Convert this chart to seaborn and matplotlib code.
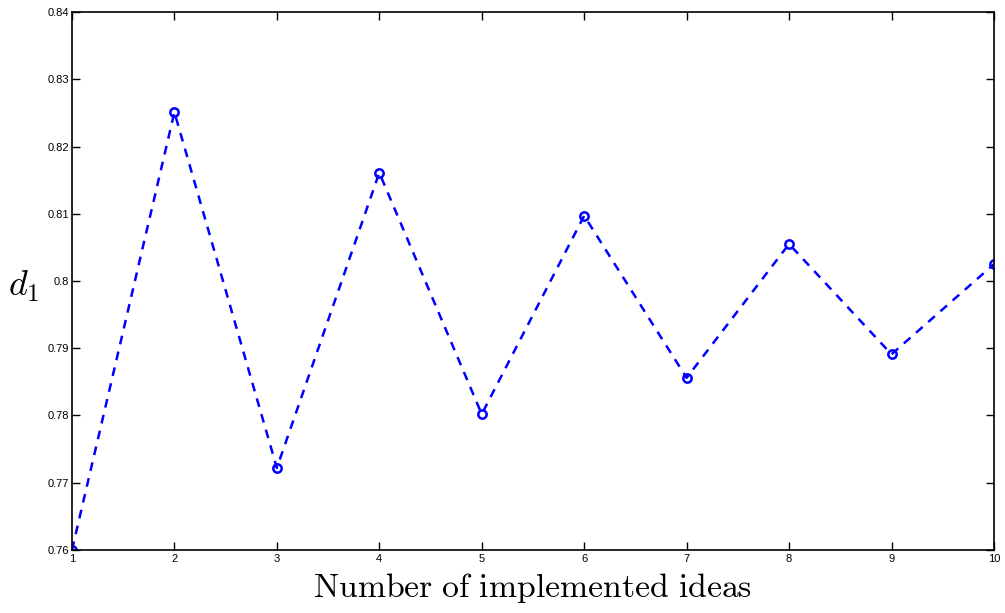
import matplotlib
matplotlib.use("Agg")
import matplotlib.pyplot as plt
import seaborn as sns
import pandas as pd

ideas = [1, 2, 3, 4, 5, 6, 7, 8, 9, 10]
d1 = [0.7600, 0.8251, 0.7722, 0.8161, 0.7802, 0.8097, 0.7856, 0.8055, 0.7891, 0.8025]
yticks = [0.76, 0.77, 0.78, 0.79, 0.80, 0.81, 0.82, 0.83, 0.84]
ytick_labels = ["0.76", "0.77", "0.78", "0.79", "0.8", "0.81", "0.82", "0.83", "0.84"]

sns.set_style("white")
plt.rcParams["font.family"] = ["Liberation Sans", "DejaVu Sans"]
plt.rcParams["mathtext.fontset"] = "cm"
plt.rcParams["text.color"] = "black"
plt.rcParams["axes.labelcolor"] = "black"

df = pd.DataFrame({"ideas": ideas, "d1": d1})

fig = plt.figure(figsize=(10.05, 6.13), dpi=100)
ax = fig.add_axes([0.0716, 0.1028, 0.9174, 0.8776])

sns.lineplot(data=df, x="ideas", y="d1", ax=ax, color="#0000ff",
             linestyle=(0, (3.5, 3)), linewidth=1.8, marker="o", markersize=6,
             markerfacecolor="none", markeredgecolor="#0000ff", markeredgewidth=1.8)

ax.set_xlim(1, 10)
ax.set_ylim(0.76, 0.84)
ax.set_xticks(ideas)
ax.set_xticklabels([str(i) for i in ideas])
ax.set_yticks(yticks)
ax.set_yticklabels(ytick_labels)
ax.tick_params(direction="in", length=6, width=1, labelsize=8, pad=2,
               top=True, right=True, bottom=True, left=True, colors="black")
ax.tick_params(axis="x", pad=3)
for s in ax.spines.values():
    s.set_visible(True)
    s.set_color("black")
    s.set_linewidth(1.2)

ax.set_xlabel(r"$\mathrm{Number\ of\ implemented\ ideas}$", fontsize=24.3,
              labelpad=5, color="black")
ax.set_ylabel(r"$d_1$", fontsize=26, rotation=0, va="center", ha="center",
              color="black")
ax.yaxis.set_label_coords(-0.052, 0.49)

fig.savefig("out.png", dpi=100)
